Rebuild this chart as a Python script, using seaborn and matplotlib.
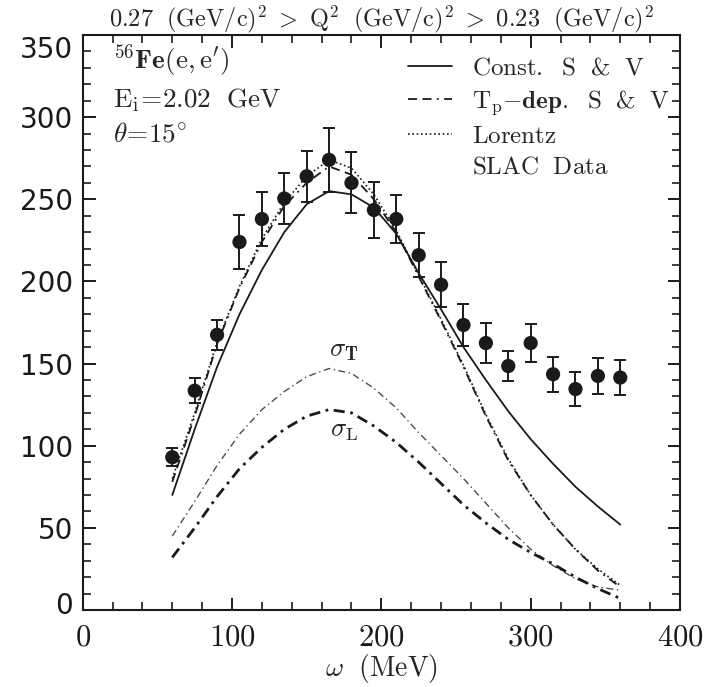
import matplotlib
matplotlib.use("Agg")
import matplotlib.pyplot as plt
import matplotlib.transforms as mtransforms
from matplotlib.lines import Line2D
from matplotlib.ticker import MultipleLocator, FuncFormatter
from matplotlib.mathtext import MathTextParser
import seaborn as sns

# ---- data ----
omega = [60, 75, 90, 105, 120, 135, 150, 165, 180, 195, 210,
         225, 240, 255, 270, 285, 300, 315, 330, 345, 360]
slac_xs = [93, 133.5, 167.5, 224, 238, 250.5, 264, 274, 260, 243.5, 238,
           216, 198, 173.5, 162.5, 148.5, 162.5, 143.5, 134.5, 142.5, 141.5]
slac_err = [5.6, 7.7, 9.1, 16.3, 16.7, 15.4, 15.7, 19.6, 18.5, 16.9, 14.4,
            13.2, 13.7, 12.5, 12.2, 9.2, 11.5, 10.5, 10.2, 10.8, 10.9]
const_sv = [70, 110, 148, 180, 207, 230, 247, 255, 253, 245, 229,
            205, 183, 160, 140, 121, 104, 89, 75, 63, 52]
tp_dep = [78, 118, 162, 196, 224, 246, 260, 270, 265, 250, 230,
          203, 176, 148, 118, 91, 70, 52, 37, 24, 14]
lorentz = [80, 120, 163, 197, 226, 248, 264, 274, 269, 253, 231,
           204, 177, 149, 119, 92, 70, 52, 37, 25, 15]
sigma_t = [45, 66, 88, 107, 122, 133, 142, 147, 144, 135, 123,
           108, 94, 80, 65, 50, 37, 27, 19, 14, 12]
sigma_l = [32, 50, 69, 86, 99, 110, 118, 122, 120, 112, 102,
           90, 77, 64, 53, 43, 35, 28, 20, 13, 7]

legend_labels_math = [r"$\mathrm{Const.\ \ S\ \ &\ \ V}$",
                      r"$\mathrm{T_p{-}}\mathbf{dep}\mathrm{.\ \ S\ \ &\ \ V}$",
                      r"$\mathrm{Lorentz}$",
                      r"$\mathrm{SLAC\ \ Data}$"]
legend_labels_plain = ["Const. S & V", "T$_\\mathrm{p}$\u2013dep. S & V",
                       "Lorentz", "SLAC Data"]

sns.set_theme(style="ticks")
plt.rcParams["mathtext.fontset"] = "cm"
plt.rcParams["font.family"] = ["DejaVu Serif"]

_parser = MathTextParser("path")


def safe(s, fallback):
    try:
        _parser.parse(s, dpi=100)
        return s
    except Exception:
        return fallback


legend_labels = [safe(a, b) for a, b in zip(legend_labels_math, legend_labels_plain)]

fig = plt.figure(figsize=(7.11, 6.87), dpi=100)
ax = fig.add_axes([0.1163, 0.1121, 0.8401, 0.8369])

ls_tp = (0, (5, 3, 5, 3, 1, 3))
ls_lor = (0, (1, 1.6))
ls_st = (0, (5, 2.5, 1, 2.5))
ls_sl = (0, (4, 2, 1, 2))

sns.lineplot(x=omega, y=const_sv, color="k", lw=1.3, ax=ax)
sns.lineplot(x=omega, y=tp_dep, color="k", lw=1.3, linestyle=ls_tp, ax=ax)
sns.lineplot(x=omega, y=lorentz, color="k", lw=1.2, linestyle=ls_lor, ax=ax)
sns.lineplot(x=omega, y=sigma_t, color="0.3", lw=1.0, linestyle=ls_st, ax=ax)
sns.lineplot(x=omega, y=sigma_l, color="k", lw=2.0, linestyle=ls_sl, ax=ax)

ax.errorbar(omega, slac_xs, yerr=slac_err, fmt="none", ecolor="k",
            elinewidth=1.4, capsize=4, capthick=1.4, zorder=4)
sns.scatterplot(x=omega, y=slac_xs, s=105, color="k", edgecolor="none",
                zorder=5, ax=ax)

ax.set_xlim(0, 400)
ax.set_ylim(0, 350)
ax.xaxis.set_major_locator(MultipleLocator(100))
ax.xaxis.set_minor_locator(MultipleLocator(20))
ax.yaxis.set_major_locator(MultipleLocator(50))
ax.yaxis.set_minor_locator(MultipleLocator(10))
ax.xaxis.set_major_formatter(FuncFormatter(lambda v, p: f"${v:.0f}$"))

ax.tick_params(which="both", direction="in", top=True, right=True,
               color="k", labelcolor="k")
ax.tick_params(which="major", length=9, width=1.4)
ax.tick_params(which="minor", length=5.5, width=1.2)
ax.tick_params(axis="x", which="major", labelsize=22, pad=8)
ax.tick_params(axis="y", which="major", labelsize=20, pad=7)
for lab in ax.get_yticklabels():
    lab.set_fontfamily("DejaVu Sans")
for sp in ax.spines.values():
    sp.set_linewidth(1.5)
    sp.set_color("k")

ax.set_xlabel(r"$\omega\ \ (\mathrm{MeV})$", fontsize=20, labelpad=0)
ax.set_ylabel("")
ax.set_title(r"$0.27\ \ (\mathrm{GeV/c})^2\ >\ \mathrm{Q}^2\ \ (\mathrm{GeV/c})^2\ >\ 0.23\ \ (\mathrm{GeV/c})^2$",
             fontsize=17.5, pad=6)

ax.text(0.051, 0.955, r"$^{56}\mathbf{Fe}\mathrm{(e,e^{\prime})}$",
        transform=ax.transAxes, fontsize=19.5, va="center", ha="left")
ax.text(0.051, 0.887, r"$\mathrm{E_i\!=\!2.02\ \ GeV}$",
        transform=ax.transAxes, fontsize=19.5, va="center", ha="left")
ax.text(0.051, 0.828, r"$\theta\!=\!15^{\circ}$",
        transform=ax.transAxes, fontsize=19.5, va="center", ha="left")

ax.text(175, 158, r"$\sigma_{\mathbf{T}}$", fontsize=19, ha="center", va="center")
ax.text(175, 109, r"$\sigma_{\mathrm{L}}$", fontsize=19, ha="center", va="center")

handles = [Line2D([], [], color="k", lw=1.3),
           Line2D([], [], color="k", lw=1.3, linestyle=ls_tp),
           Line2D([], [], color="k", lw=1.2, linestyle=ls_lor),
           Line2D([], [], color="none", lw=0)]
leg = ax.legend(handles, legend_labels, loc="upper left",
                bbox_to_anchor=(0.545, 0.962), frameon=False, fontsize=18,
                handlelength=1.75, handletextpad=0.8, labelspacing=0.32,
                borderpad=0, borderaxespad=0)

# edge tick labels are nudged inward as in the reference
fig.canvas.draw()
for tick in ax.yaxis.get_major_ticks():
    v = tick.get_loc()
    if abs(v - 0) < 1e-6:
        tick.label1.set_transform(tick.label1.get_transform() +
                                  mtransforms.ScaledTranslation(0, 7 / 100, fig.dpi_scale_trans))
    elif abs(v - 350) < 1e-6:
        tick.label1.set_transform(tick.label1.get_transform() +
                                  mtransforms.ScaledTranslation(0, -12 / 100, fig.dpi_scale_trans))

fig.savefig("out.png", dpi=100)
